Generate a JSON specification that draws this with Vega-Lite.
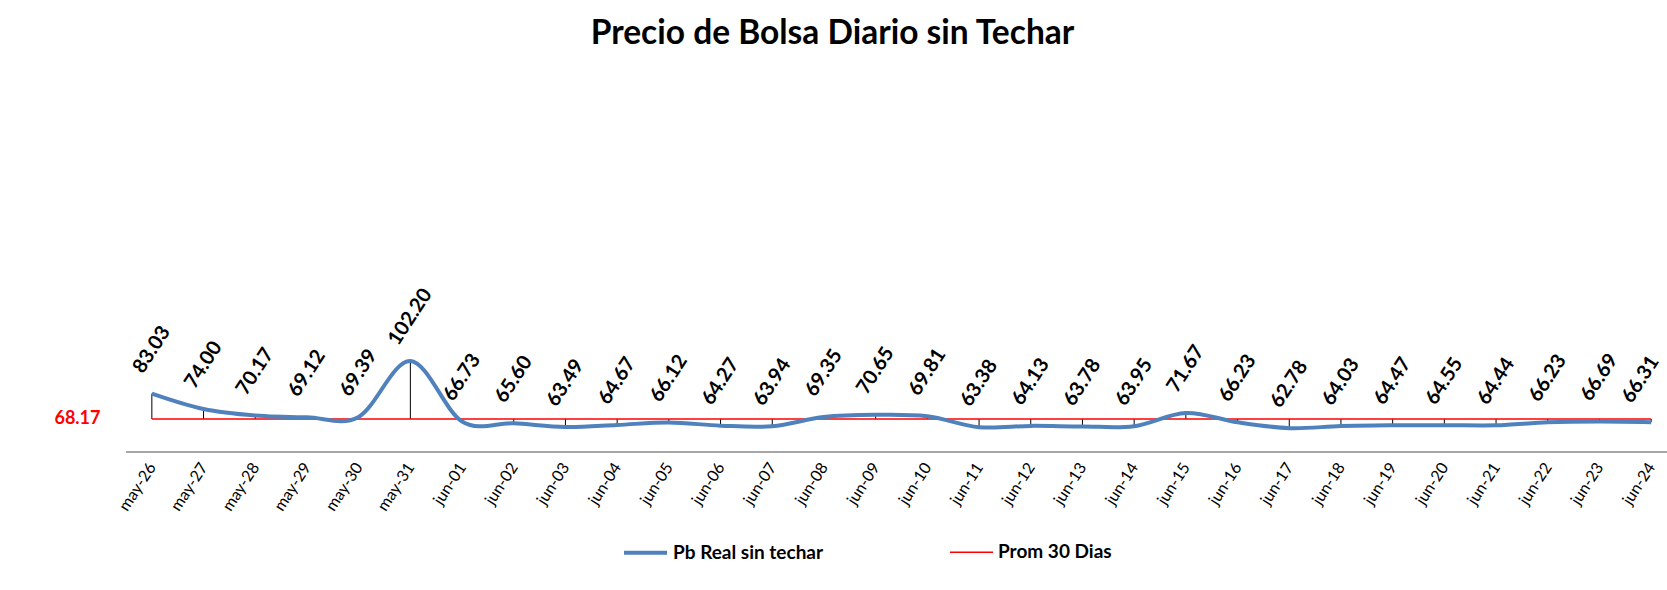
{
  "$schema": "https://vega.github.io/schema/vega-lite/v6.json",
  "width": 1541,
  "height": 402,
  "autosize": {"type": "none"},
  "padding": {"left": 126, "top": 50, "right": 0, "bottom": 138},
  "background": "white",
  "title": {"text": "Precio de Bolsa Diario sin Techar", "fontSize": 33.5, "font": "Lato", "fontWeight": "bold", "color": "black", "anchor": "middle", "dx": -64, "offset": -1},
  "config": {"view": {"stroke": null}, "font": "Lato"},
  "data": {"values": [
    {"fecha": "may-26", "Pb Real sin techar": 83.03, "Prom 30 Dias": 68.17},
    {"fecha": "may-27", "Pb Real sin techar": 74.00, "Prom 30 Dias": 68.17},
    {"fecha": "may-28", "Pb Real sin techar": 70.17, "Prom 30 Dias": 68.17},
    {"fecha": "may-29", "Pb Real sin techar": 69.12, "Prom 30 Dias": 68.17},
    {"fecha": "may-30", "Pb Real sin techar": 69.39, "Prom 30 Dias": 68.17},
    {"fecha": "may-31", "Pb Real sin techar": 102.20, "Prom 30 Dias": 68.17},
    {"fecha": "jun-01", "Pb Real sin techar": 66.73, "Prom 30 Dias": 68.17},
    {"fecha": "jun-02", "Pb Real sin techar": 65.60, "Prom 30 Dias": 68.17},
    {"fecha": "jun-03", "Pb Real sin techar": 63.49, "Prom 30 Dias": 68.17},
    {"fecha": "jun-04", "Pb Real sin techar": 64.67, "Prom 30 Dias": 68.17},
    {"fecha": "jun-05", "Pb Real sin techar": 66.12, "Prom 30 Dias": 68.17},
    {"fecha": "jun-06", "Pb Real sin techar": 64.27, "Prom 30 Dias": 68.17},
    {"fecha": "jun-07", "Pb Real sin techar": 63.94, "Prom 30 Dias": 68.17},
    {"fecha": "jun-08", "Pb Real sin techar": 69.35, "Prom 30 Dias": 68.17},
    {"fecha": "jun-09", "Pb Real sin techar": 70.65, "Prom 30 Dias": 68.17},
    {"fecha": "jun-10", "Pb Real sin techar": 69.81, "Prom 30 Dias": 68.17},
    {"fecha": "jun-11", "Pb Real sin techar": 63.38, "Prom 30 Dias": 68.17},
    {"fecha": "jun-12", "Pb Real sin techar": 64.13, "Prom 30 Dias": 68.17},
    {"fecha": "jun-13", "Pb Real sin techar": 63.78, "Prom 30 Dias": 68.17},
    {"fecha": "jun-14", "Pb Real sin techar": 63.95, "Prom 30 Dias": 68.17},
    {"fecha": "jun-15", "Pb Real sin techar": 71.67, "Prom 30 Dias": 68.17},
    {"fecha": "jun-16", "Pb Real sin techar": 66.23, "Prom 30 Dias": 68.17},
    {"fecha": "jun-17", "Pb Real sin techar": 62.78, "Prom 30 Dias": 68.17},
    {"fecha": "jun-18", "Pb Real sin techar": 64.03, "Prom 30 Dias": 68.17},
    {"fecha": "jun-19", "Pb Real sin techar": 64.47, "Prom 30 Dias": 68.17},
    {"fecha": "jun-20", "Pb Real sin techar": 64.55, "Prom 30 Dias": 68.17},
    {"fecha": "jun-21", "Pb Real sin techar": 64.44, "Prom 30 Dias": 68.17},
    {"fecha": "jun-22", "Pb Real sin techar": 66.23, "Prom 30 Dias": 68.17},
    {"fecha": "jun-23", "Pb Real sin techar": 66.69, "Prom 30 Dias": 68.17},
    {"fecha": "jun-24", "Pb Real sin techar": 66.31, "Prom 30 Dias": 68.17}
  ]},
  "encoding": {
    "x": {
      "field": "fecha", "type": "ordinal", "sort": null,
      "scale": {"type": "point", "range": [25.85, 1525.15], "padding": 0},
      "axis": {"title": null, "labelAngle": -57, "labelFontSize": 16, "labelColor": "black", "ticks": false, "domain": false, "labelPadding": 12, "grid": false}
    }
  },
  "layer": [
    {
      "mark": {"type": "rule", "color": "#A6A6A6", "strokeWidth": 2},
      "encoding": {
        "x": null,
        "y": {"datum": 48.8, "type": "quantitative", "scale": {"domain": [48.8, 284.7], "nice": false, "zero": false},
              "axis": {"title": null, "values": [68.17], "format": ".2f", "labelColor": "#FF0000", "labelFontWeight": "bold", "labelFontSize": 18, "labelPadding": 26, "domain": false, "ticks": false, "grid": false}}
      }
    },
    {
      "mark": {"type": "rule", "color": "black", "strokeWidth": 1},
      "encoding": {
        "y": {"field": "Pb Real sin techar", "type": "quantitative", "scale": {"domain": [48.8, 284.7], "nice": false, "zero": false},
              "axis": {"title": null, "values": [68.17], "format": ".2f", "labelColor": "#FF0000", "labelFontWeight": "bold", "labelFontSize": 18, "labelPadding": 26, "domain": false, "ticks": false, "grid": false}},
        "y2": {"field": "Prom 30 Dias"}
      }
    },
    {
      "transform": [{"fold": ["Pb Real sin techar", "Prom 30 Dias"], "as": ["serie", "v"]}, {"filter": "datum.serie == 'Prom 30 Dias'"}],
      "mark": {"type": "line"},
      "encoding": {
        "y": {"field": "v", "type": "quantitative", "scale": {"domain": [48.8, 284.7], "nice": false, "zero": false},
              "axis": {"title": null, "values": [68.17], "format": ".2f", "labelColor": "#FF0000", "labelFontWeight": "bold", "labelFontSize": 18, "labelPadding": 26, "domain": false, "ticks": false, "grid": false}},
        "color": {"field": "serie", "type": "nominal", "scale": {"domain": ["Pb Real sin techar", "Prom 30 Dias"], "range": ["#4F81BD", "#FF0000"]},
                  "legend": {"orient": "none", "legendX": 496, "legendY": 479, "direction": "horizontal", "title": null, "symbolType": "stroke", "symbolSize": 1849, "labelFontSize": 19, "labelFontWeight": "bold", "labelColor": "black", "columnPadding": 123, "labelOffset": 4}},
        "strokeWidth": {"field": "serie", "type": "nominal", "scale": {"domain": ["Pb Real sin techar", "Prom 30 Dias"], "range": [4, 1.5]}}
      }
    },
    {
      "transform": [{"fold": ["Pb Real sin techar", "Prom 30 Dias"], "as": ["serie", "v"]}, {"filter": "datum.serie == 'Pb Real sin techar'"}],
      "mark": {"type": "line", "interpolate": "cardinal"},
      "encoding": {
        "y": {"field": "v", "type": "quantitative", "scale": {"domain": [48.8, 284.7], "nice": false, "zero": false},
              "axis": {"title": null, "values": [68.17], "format": ".2f", "labelColor": "#FF0000", "labelFontWeight": "bold", "labelFontSize": 18, "labelPadding": 26, "domain": false, "ticks": false, "grid": false}},
        "color": {"field": "serie", "type": "nominal"},
        "strokeWidth": {"field": "serie", "type": "nominal"}
      }
    },
    {
      "mark": {"type": "text", "angle": 303, "radius": 44, "theta": {"expr": "datum.fecha == 'jun-24' ? -0.24 : 0"}, "align": "center", "baseline": "middle", "fontWeight": "bold", "fontSize": 20, "color": "black"},
      "encoding": {
        "y": {"field": "Pb Real sin techar", "type": "quantitative", "scale": {"domain": [48.8, 284.7], "nice": false, "zero": false},
              "axis": {"title": null, "values": [68.17], "format": ".2f", "labelColor": "#FF0000", "labelFontWeight": "bold", "labelFontSize": 18, "labelPadding": 26, "domain": false, "ticks": false, "grid": false}},
        "text": {"field": "Pb Real sin techar", "type": "quantitative", "format": ".2f"}
      }
    }
  ]
}
